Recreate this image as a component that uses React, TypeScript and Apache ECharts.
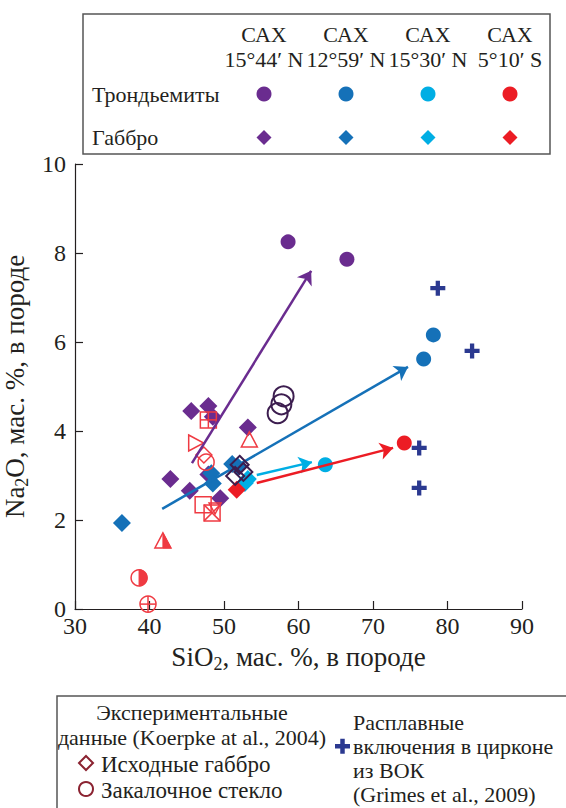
import React, { useEffect, useRef } from 'react';
import * as echarts from 'echarts';

const FONT = 'Liberation Serif';

// Site colours: САХ 15°44′ N, 12°59′ N, 15°30′ N, 5°10′ S
const PURPLE = '#6a2c8f';
const BLUE = '#1571b8';
const CYAN = '#00aee4';
const RED = '#ec1c24';
const NAVY = '#2b3990';
const DARK = '#3c1d4f';
const LEGEND_DARK = '#8b2331';
const EXP_RED = '#ef3a42';
const INK = '#231f20';

const siteHeaders = ['САХ', 'САХ', 'САХ', 'САХ'];
const siteLatitudes = ['15°44′ N', '12°59′ N', '15°30′ N', '5°10′ S'];
const siteColors = [PURPLE, BLUE, CYAN, RED];
const rowLabels = ['Трондьемиты', 'Габбро'];

// Axis ticks
const xTicks = { min: 30, max: 90, interval: 10 };
const yTicks = { min: 0, max: 10, interval: 2 };

// Trondhjemites, [SiO2, Na2O]
const trondhjemitePurple = [[58.6, 8.25], [66.5, 7.86]];
const trondhjemiteBlue = [[78.1, 6.16], [76.8, 5.62]];
const trondhjemiteCyan = [[63.6, 3.24]];
const trondhjemiteRed = [[74.2, 3.73]];

// Gabbro, [SiO2, Na2O]
const gabbroPurple = [
  [45.6, 4.45], [47.9, 4.56], [48.5, 4.32], [53.2, 4.08],
  [42.8, 2.92], [47.9, 3.02], [45.4, 2.66], [49.5, 2.49],
];
const gabbroBlue = [[36.3, 1.93], [51.1, 3.26], [51.9, 3.19], [48.3, 3.05], [48.5, 2.82]];
const gabbroCyan = [[53.2, 2.92], [52.8, 2.83]];
const gabbroRed = [[51.7, 2.68]];

// Trend arrows, [start, end]
const arrowPurple = [[45.7, 3.28], [61.7, 7.6]];
const arrowBlue = [[41.7, 2.25], [74.7, 5.44]];
const arrowCyan = [[54.4, 3.01], [61.8, 3.3]];
const arrowRed = [[54.4, 2.83], [72.7, 3.62]];

// Koepke et al., 2004: starting gabbro and quenched glass
const koepkeStartGabbro = [[52.1, 3.24], [51.5, 2.99], [52.6, 3.08]];
const koepkeGlass = [[58.0, 4.78], [57.7, 4.6], [57.2, 4.4]];

// Koepke et al., 2004: individual experiments
const expGridSquare = [[47.9, 4.25]];
const expRightTriangle = [[46.2, 3.73]];
const expDiamond = [[47.3, 3.46]];
const expCircle = [[47.6, 3.3]];
const expUpTriangle = [[53.4, 3.8]];
const expSquare = [[47.2, 2.34]];
const expCrossSquare = [[48.4, 2.16]];
const expDownTriangle = [[48.8, 2.27]];
const expHalfTriangle = [[41.8, 1.53]];
const expHalfCircle = [[38.6, 0.7]];
const expPlusCircle = [[39.8, 0.11]];

// Grimes et al., 2009: melt inclusions in zircon
const zirconInclusions = [[78.7, 7.21], [83.3, 5.8], [76.2, 3.62], [76.2, 2.72]];

const PLUS_PATH = 'path://M5 0H9V5H14V9H9V14H5V9H0V5H5Z';

type Drawer = (cx: number, cy: number) => any[];

const stroke = (color = EXP_RED, lineWidth = 1.5) => ({ stroke: color, fill: 'none', lineWidth });
const fillStyle = (color = EXP_RED) => ({ fill: color, stroke: color, lineWidth: 1 });

const seg = (x1: number, y1: number, x2: number, y2: number) => ({
  type: 'line', shape: { x1, y1, x2, y2 }, style: stroke(),
});

const S = 8; // half-size of the experimental markers

const drawers: Record<string, Drawer> = {
  gridSquare: (cx, cy) => [
    { type: 'rect', shape: { x: cx - S, y: cy - S, width: 2 * S, height: 2 * S }, style: stroke() },
    seg(cx, cy - S, cx, cy + S),
    seg(cx - S, cy, cx + S, cy),
  ],
  crossSquare: (cx, cy) => [
    { type: 'rect', shape: { x: cx - S, y: cy - S, width: 2 * S, height: 2 * S }, style: stroke() },
    seg(cx - S, cy - S, cx + S, cy + S),
    seg(cx - S, cy + S, cx + S, cy - S),
  ],
  square: (cx, cy) => [
    { type: 'rect', shape: { x: cx - S, y: cy - S, width: 2 * S, height: 2 * S }, style: stroke() },
  ],
  upTriangle: (cx, cy) => [
    { type: 'polygon', shape: { points: [[cx, cy - S], [cx + S, cy + S - 1], [cx - S, cy + S - 1]] }, style: stroke() },
  ],
  downTriangle: (cx, cy) => [
    { type: 'polygon', shape: { points: [[cx - 6, cy - 5], [cx + 6, cy - 5], [cx, cy + 6]] }, style: stroke() },
  ],
  rightTriangle: (cx, cy) => [
    { type: 'polygon', shape: { points: [[cx - S + 1, cy - S], [cx + S, cy], [cx - S + 1, cy + S]] }, style: stroke() },
  ],
  diamond: (cx, cy) => [
    { type: 'polygon', shape: { points: [[cx, cy - S], [cx + S, cy], [cx, cy + S], [cx - S, cy]] }, style: stroke() },
  ],
  circle: (cx, cy) => [
    { type: 'circle', shape: { cx, cy, r: S }, style: stroke() },
  ],
  plusCircle: (cx, cy) => [
    { type: 'circle', shape: { cx, cy, r: S }, style: stroke() },
    seg(cx, cy - S, cx, cy + S),
    seg(cx - S, cy, cx + S, cy),
  ],
  halfTriangle: (cx, cy) => [
    { type: 'polygon', shape: { points: [[cx, cy - S], [cx + S, cy + S - 1], [cx, cy + S - 1]] }, style: fillStyle() },
    { type: 'polygon', shape: { points: [[cx, cy - S], [cx + S, cy + S - 1], [cx - S, cy + S - 1]] }, style: stroke() },
  ],
  halfCircle: (cx, cy) => {
    const pts: number[][] = [];
    for (let i = 0; i <= 24; i++) {
      const a = -Math.PI / 2 + (Math.PI * i) / 24;
      pts.push([cx + S * Math.cos(a), cy + S * Math.sin(a)]);
    }
    return [
      { type: 'polygon', shape: { points: pts }, style: fillStyle() },
      { type: 'circle', shape: { cx, cy, r: S }, style: stroke() },
    ];
  },
};

const expSeries = (name: string, data: number[][], kind: string) => ({
  type: 'custom',
  name,
  data,
  encode: { x: 0, y: 1 },
  z: 4,
  clip: false,
  renderItem: (_params: any, api: any) => {
    const p = api.coord([api.value(0), api.value(1)]);
    return { type: 'group', children: drawers[kind](p[0], p[1]) };
  },
});

const openMarkerSeries = (name: string, data: number[][], kind: 'diamond' | 'circle') => ({
  type: 'custom',
  name,
  data,
  encode: { x: 0, y: 1 },
  z: 5,
  renderItem: (_params: any, api: any) => {
    const [cx, cy] = api.coord([api.value(0), api.value(1)]);
    const st = { stroke: DARK, fill: 'none', lineWidth: 2 };
    if (kind === 'circle') {
      return { type: 'circle', shape: { cx, cy, r: 10 }, style: st };
    }
    const h = 9;
    return {
      type: 'polygon',
      shape: { points: [[cx, cy - h], [cx + h, cy], [cx, cy + h], [cx - h, cy]] },
      style: st,
    };
  },
});

const scatter = (name: string, data: number[][], symbol: string, color: string, size: number) => ({
  type: 'scatter',
  name,
  data,
  symbol,
  symbolSize: size,
  itemStyle: { color, opacity: 1 },
  z: 3,
});

const arrow = (data: number[][], color: string) => ({
  type: 'lines',
  coordinateSystem: 'cartesian2d',
  data: [{ coords: data }],
  symbol: ['none', 'arrow'],
  symbolSize: 13,
  lineStyle: { color, width: 2.5, opacity: 1 },
  z: 4,
});

function buildLegendGraphics() {
  const els: any[] = [];
  const colX = [264, 346, 428, 510];
  els.push({
    type: 'rect',
    shape: { x: 83, y: 14, width: 467, height: 140 },
    style: { stroke: '#555', fill: '#fff', lineWidth: 1.5 },
    z: 10,
  });
  const txt = (x: number, y: number, text: string, align = 'center', size = 22, color = INK) => ({
    type: 'text',
    x,
    y,
    z: 11,
    style: {
      text,
      fontFamily: FONT,
      fontSize: size,
      fill: color,
      textAlign: align,
      textVerticalAlign: 'middle',
    },
  });
  colX.forEach((x, i) => {
    els.push(txt(x, 34, siteHeaders[i]));
    els.push(txt(x, 59, siteLatitudes[i]));
    els.push({ type: 'circle', shape: { cx: x, cy: 94, r: 7.5 }, style: { fill: siteColors[i] }, z: 11 });
    els.push({
      type: 'polygon',
      shape: { points: [[x, 130], [x + 7.5, 137.5], [x, 145], [x - 7.5, 137.5]] },
      style: { fill: siteColors[i] },
      z: 11,
    });
  });
  els.push(txt(92, 94, rowLabels[0], 'left'));
  els.push(txt(92, 137, rowLabels[1], 'left'));

  // Lower legend: experimental data and zircon inclusions
  els.push({
    type: 'rect',
    shape: { x: 57, y: 696, width: 530, height: 130 },
    style: { stroke: '#555', fill: '#fff', lineWidth: 1.5 },
    z: 10,
  });
  els.push(txt(192, 712, 'Экспериментальные'));
  els.push(txt(192, 737, 'данные (Koerpke at al., 2004)'));
  els.push({
    type: 'polygon',
    shape: { points: [[86, 756], [93, 763], [86, 770], [79, 763]] },
    style: { stroke: LEGEND_DARK, fill: 'none', lineWidth: 2 },
    z: 11,
  });
  els.push(txt(101, 764, 'Исходные габбро', 'left', 23));
  els.push({ type: 'circle', shape: { cx: 86, cy: 789, r: 7 }, style: { stroke: LEGEND_DARK, fill: 'none', lineWidth: 2 }, z: 11 });
  els.push(txt(101, 790, 'Закалочное стекло', 'left', 23));
  els.push({ type: 'rect', shape: { x: 335, y: 744, width: 15, height: 4.5 }, style: { fill: NAVY }, z: 11 });
  els.push({ type: 'rect', shape: { x: 340.25, y: 738.75, width: 4.5, height: 15 }, style: { fill: NAVY }, z: 11 });
  els.push(txt(353, 722, 'Расплавные', 'left', 22));
  els.push(txt(353, 746, 'включения в цирконе', 'left', 22));
  els.push(txt(353, 770, 'из ВОК', 'left', 22));
  els.push(txt(353, 794, '(Grimes et al., 2009)', 'left', 22));
  return els;
}

export default function App() {
  const ref = useRef<HTMLDivElement>(null);

  useEffect(() => {
    if (!ref.current) return;
    const chart = echarts.init(ref.current, null, { renderer: 'svg' });
    const axisText = { fontFamily: FONT, fontSize: 24, color: INK };
    const nameRich = {
      n: { fontFamily: FONT, fontSize: 27, color: INK, lineHeight: 32 },
      s: { fontFamily: FONT, fontSize: 18, color: INK, lineHeight: 16, verticalAlign: 'bottom' },
    };
    chart.setOption({
      animation: false,
      backgroundColor: '#fff',
      textStyle: { fontFamily: FONT },
      grid: { left: 75, right: 44, top: 164, bottom: 199, containLabel: false, outerBoundsMode: 'none' },
      xAxis: {
        type: 'value',
        min: xTicks.min,
        max: xTicks.max,
        interval: xTicks.interval,
        name: '{n|SiO}{s|2}{n|, мас. %, в породе}',
        nameLocation: 'middle',
        nameGap: 32,
        nameTextStyle: { fontFamily: FONT, rich: nameRich },
        axisLine: { lineStyle: { color: INK, width: 1.2 } },
        axisTick: { inside: true, length: 8, lineStyle: { color: INK, width: 1.2 } },
        axisLabel: { ...axisText, margin: 5 },
        splitLine: { show: false },
      },
      yAxis: {
        type: 'value',
        min: yTicks.min,
        max: yTicks.max,
        interval: yTicks.interval,
        name: '{n|Na}{s|2}{n|O, мас. %, в породе}',
        nameLocation: 'middle',
        nameGap: 38,
        nameTextStyle: { fontFamily: FONT, rich: nameRich },
        axisLine: { show: true, lineStyle: { color: INK, width: 1.2 } },
        axisTick: { show: true, inside: true, length: 8, lineStyle: { color: INK, width: 1.2 } },
        axisLabel: { ...axisText, margin: 9 },
        splitLine: { show: false },
      },
      graphic: buildLegendGraphics(),
      series: [
        scatter('Габбро 15°44′ N', gabbroPurple, 'diamond', PURPLE, 18),
        scatter('Габбро 12°59′ N', gabbroBlue, 'diamond', BLUE, 18),
        scatter('Габбро 15°30′ N', gabbroCyan, 'diamond', CYAN, 18),
        scatter('Габбро 5°10′ S', gabbroRed, 'diamond', RED, 18),
        expSeries('exp grid square', expGridSquare, 'gridSquare'),
        expSeries('exp right triangle', expRightTriangle, 'rightTriangle'),
        expSeries('exp diamond', expDiamond, 'diamond'),
        expSeries('exp circle', expCircle, 'circle'),
        expSeries('exp up triangle', expUpTriangle, 'upTriangle'),
        expSeries('exp square', expSquare, 'square'),
        expSeries('exp cross square', expCrossSquare, 'crossSquare'),
        expSeries('exp down triangle', expDownTriangle, 'downTriangle'),
        expSeries('exp half triangle', expHalfTriangle, 'halfTriangle'),
        expSeries('exp half circle', expHalfCircle, 'halfCircle'),
        expSeries('exp plus circle', expPlusCircle, 'plusCircle'),
        arrow(arrowPurple, PURPLE),
        arrow(arrowBlue, BLUE),
        arrow(arrowCyan, CYAN),
        arrow(arrowRed, RED),
        openMarkerSeries('Исходные габбро', koepkeStartGabbro, 'diamond'),
        openMarkerSeries('Закалочное стекло', koepkeGlass, 'circle'),
        scatter('Трондьемиты 15°44′ N', trondhjemitePurple, 'circle', PURPLE, 15),
        scatter('Трондьемиты 12°59′ N', trondhjemiteBlue, 'circle', BLUE, 15),
        scatter('Трондьемиты 15°30′ N', trondhjemiteCyan, 'circle', CYAN, 15),
        scatter('Трондьемиты 5°10′ S', trondhjemiteRed, 'circle', RED, 15),
        scatter('Расплавные включения в цирконе', zirconInclusions, PLUS_PATH, NAVY, 15),
      ],
    });
    return () => chart.dispose();
  }, []);

  return (
    <div
      ref={ref}
      style={{ position: 'fixed', left: 0, top: 0, width: 566, height: 808, background: '#fff' }}
    />
  );
}
